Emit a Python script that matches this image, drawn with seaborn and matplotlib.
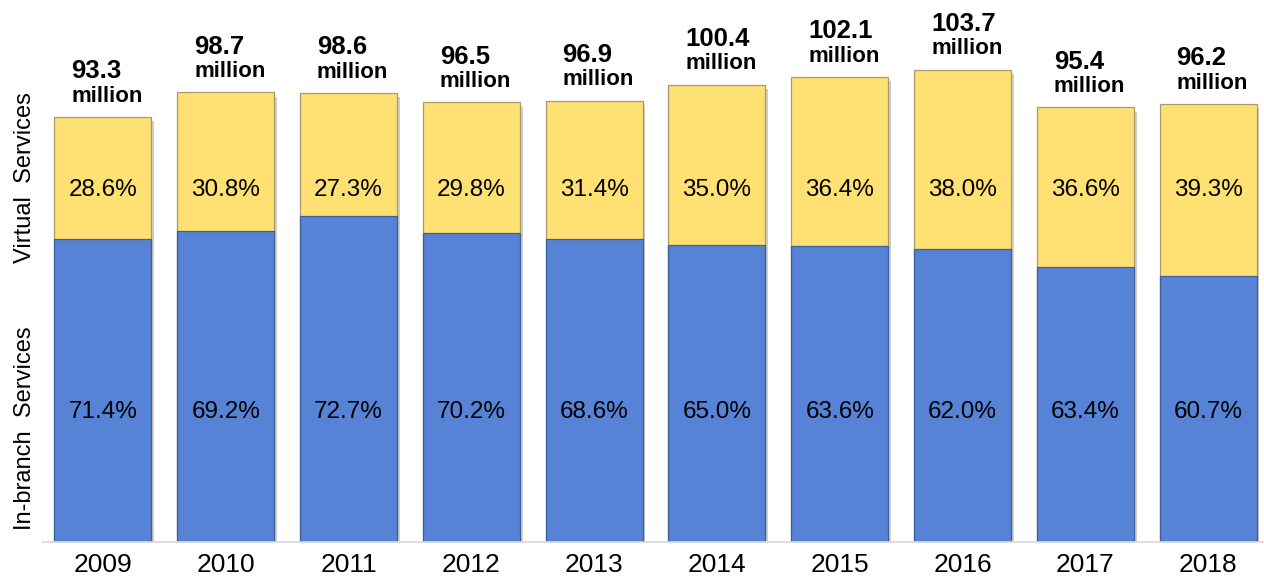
import matplotlib
matplotlib.use("Agg")
import matplotlib.pyplot as plt
import matplotlib.patheffects as pe
import seaborn as sns
import pandas as pd

years = ["2009", "2010", "2011", "2012", "2013", "2014", "2015", "2016", "2017", "2018"]
totals = [93.3, 98.7, 98.6, 96.5, 96.9, 100.4, 102.1, 103.7, 95.4, 96.2]
virtual_pct = [28.6, 30.8, 27.3, 29.8, 31.4, 35.0, 36.4, 38.0, 36.6, 39.3]
branch_pct = [71.4, 69.2, 72.7, 70.2, 68.6, 65.0, 63.6, 62.0, 63.4, 60.7]

df = pd.DataFrame({"year": years, "total": totals,
                   "virtual": virtual_pct, "branch": branch_pct})
df["branch_val"] = df["total"] * df["branch"] / 100

sns.set_theme(style="white")
plt.rcParams["font.family"] = ["Liberation Sans", "DejaVu Sans"]

YELLOW = "#FFE072"
BLUE = "#5683D6"

fig = plt.figure(figsize=(12.64, 5.87), dpi=100)
ax = fig.add_axes([42 / 1264, 45 / 587, 1 - 42 / 1264, 1 - 45 / 587])

shadow = [pe.SimplePatchShadow(offset=(2, -3), alpha=0.25), pe.Normal()]

sns.barplot(data=df, x="year", y="total", color=YELLOW, saturation=1,
            width=0.79, edgecolor="#a8996a", linewidth=0.9, ax=ax)
n_top = len(ax.patches)
sns.barplot(data=df, x="year", y="branch_val", color=BLUE, saturation=1,
            width=0.79, edgecolor="#3e5f9e", linewidth=0.9, ax=ax)
for i, p in enumerate(ax.patches):
    if i < n_top:
        p.set_path_effects(shadow)

ax.set_xlim(-0.496, 9.455)
ax.set_ylim(0, 119)
ax.set_xlabel("")
ax.set_ylabel("")
ax.set_yticks([])
ax.tick_params(axis="x", length=0, pad=8, labelsize=19, labelcolor="black")
for s in ["top", "right", "left"]:
    ax.spines[s].set_visible(False)
ax.spines["bottom"].set_color("#d9d9d9")
ax.spines["bottom"].set_linewidth(1.2)

# percentage labels
for i in range(len(years)):
    ax.text(i, 0.649, f"{virtual_pct[i]:.1f}%", transform=ax.get_xaxis_transform(),
            ha="center", va="center", fontsize=17.5, color="black")
    ax.text(i, 0.24, f"{branch_pct[i]:.1f}%", transform=ax.get_xaxis_transform(),
            ha="center", va="center", fontsize=17.5, color="black")

# total labels above bars
fig.canvas.draw()
renderer = fig.canvas.get_renderer()
for i, t in enumerate(totals):
    m = ax.annotate("million", (i, t), xytext=(3, 11), textcoords="offset points",
                    ha="center", va="baseline", fontsize=16, fontweight="bold",
                    color="black")
    bb = m.get_window_extent(renderer)
    left = ax.transData.inverted().transform((bb.x0, 0))[0]
    ax.annotate(f"{t:.1f}", (left, t), xytext=(0, 28), textcoords="offset points",
                ha="left", va="baseline", fontsize=18.5, fontweight="bold",
                color="black")

fig.text(25 / 1264, 1 - 178 / 587, "Virtual  Services", rotation=90,
         ha="center", va="center", fontsize=17, color="black")
fig.text(25 / 1264, 1 - 428 / 587, "In-branch  Services", rotation=90,
         ha="center", va="center", fontsize=17, color="black")

fig.savefig("out.png", dpi=100)
